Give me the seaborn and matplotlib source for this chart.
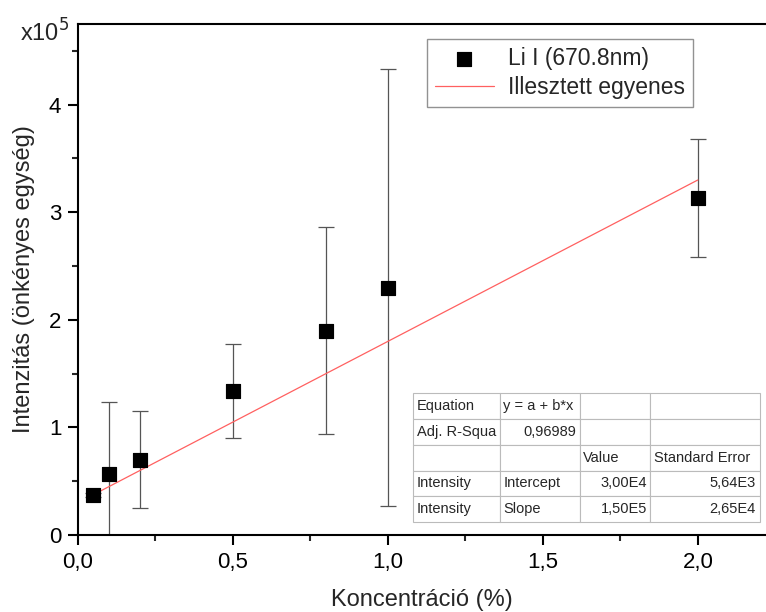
import numpy as np
import pandas as pd
import seaborn as sns
import matplotlib.pyplot as plt
from matplotlib.ticker import MultipleLocator, FuncFormatter

# -----------------------------------------
# Data (intensity in units of 1e5)
# -----------------------------------------
konc = [0.05, 0.1, 0.2, 0.5, 0.8, 1.0, 2.0]
intens = [0.37, 0.57, 0.70, 1.34, 1.90, 2.30, 3.13]
hiba = [0.02, 0.67, 0.45, 0.44, 0.96, 2.03, 0.55]

fit_a = 0.30   # intercept, 1e5
fit_b = 1.50   # slope, 1e5
fit_x = [0.05, 2.0]

table_rows = [
    ["Equation", "y = a + b*x", "", ""],
    ["Adj. R-Squa", "0,96989", "", ""],
    ["", "", "Value", "Standard Error"],
    ["Intensity", "Intercept", "3,00E4", "5,64E3"],
    ["Intensity", "Slope", "1,50E5", "2,65E4"],
]

df = pd.DataFrame({"x": konc, "y": intens})
fit_df = pd.DataFrame({"x": fit_x, "y": [fit_a + fit_b * v for v in fit_x]})

# -----------------------------------------
# Plot
# -----------------------------------------
sns.set_style("ticks")
plt.rcParams["font.family"] = ["Liberation Sans", "DejaVu Sans"]

fig = plt.figure(figsize=(7.66, 6.12), dpi=100)
ax = fig.add_axes([78 / 766, 1 - 535 / 612, 688 / 766, 511 / 612])

ax.errorbar(konc, intens, yerr=hiba, fmt="none", ecolor="#555555",
            elinewidth=0.9, capsize=6, capthick=0.9, zorder=2)
sns.lineplot(data=fit_df, x="x", y="y", ax=ax, color="#ff6060", lw=0.9,
             label="Illesztett egyenes", zorder=3)
sns.scatterplot(data=df, x="x", y="y", ax=ax, marker="s", s=110, color="black",
                edgecolor="black", label="Li I (670.8nm)", zorder=4)

ax.set_xlim(0, 2.22)
ax.set_ylim(0, 4.75)
ax.xaxis.set_major_locator(MultipleLocator(0.5))
ax.xaxis.set_minor_locator(MultipleLocator(0.25))
ax.yaxis.set_major_locator(MultipleLocator(1))
ax.yaxis.set_minor_locator(MultipleLocator(0.5))
ax.xaxis.set_major_formatter(FuncFormatter(lambda v, p: f"{v:.1f}".replace(".", ",")))
ax.yaxis.set_major_formatter(FuncFormatter(lambda v, p: f"{v:.0f}"))
ax.tick_params(which="major", direction="out", length=7, width=1.5, labelsize=16,
               colors="black", pad=5)
ax.tick_params(which="minor", direction="out", length=4, width=1.5)
for s in ["left", "bottom", "top"]:
    ax.spines[s].set_linewidth(1.5)
    ax.spines[s].set_color("black")
ax.spines["right"].set_visible(False)
ax.spines["top"].set_visible(True)

ax.set_xlabel("Koncentráció (%)", fontsize=17, labelpad=12)
ax.set_ylabel("Intenzitás (önkényes egység)", fontsize=17, labelpad=10)
fig.text(20 / 766, 1 - 42 / 612, "x10$^5$", fontsize=17)

handles, labels = ax.get_legend_handles_labels()
order = [1, 0]
leg = ax.legend([handles[i] for i in order], [labels[i] for i in order],
                loc="upper left", bbox_to_anchor=(0.49, 0.993), fontsize=16.5,
                frameon=True, fancybox=False, edgecolor="#777777",
                handlelength=2.6, handletextpad=0.6, borderpad=0.35,
                labelspacing=0.25)
leg.get_frame().set_linewidth(1.0)

tbl = ax.table(cellText=table_rows, cellLoc="left",
               bbox=[0.487, 0.025, 0.504, 0.253],
               colWidths=[87, 80, 70, 110])
tbl.auto_set_font_size(False)
tbl.set_fontsize(10.5)
for (r, c), cell in tbl.get_celld().items():
    cell.set_edgecolor("#bbbbbb")
    cell.set_linewidth(0.8)
    cell.set_facecolor("white")
    cell.PAD = 0.04
    if (r >= 3 and c >= 2) or (r == 1 and c == 1):
        cell.get_text().set_horizontalalignment("right")

fig.savefig("out.png", dpi=100)
